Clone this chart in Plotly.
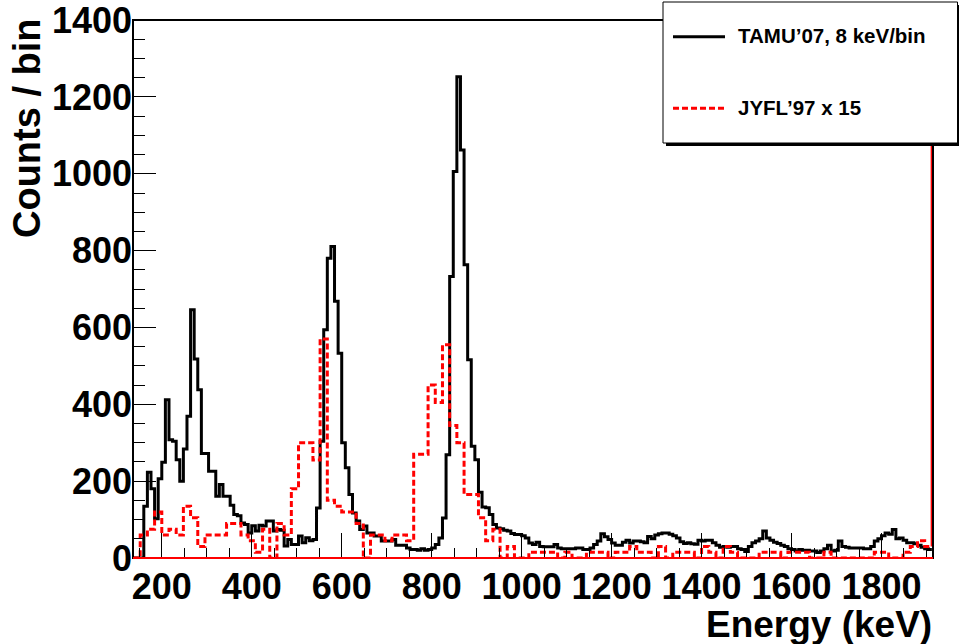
import plotly.graph_objects as go

# ---------------- data ----------------
E_MIN = 136          # keV, left edge of first bin
E_LAST = 1912        # keV, right edge of last bin
TAMU_BIN = 8         # keV / bin
JYFL_BIN = 16        # keV / bin

# TAMU'07 spectrum, 8 keV bins starting at 136 keV (222 bins)
tamu_counts = [
    0, 0, 0, 135, 223, 180, 102, 206, 249, 412,            # 0-9
    308, 304, 256, 200, 284, 369, 646, 518, 438, 272,      # 10-19
    272, 226, 226, 161, 191, 161, 161, 137, 113, 110,      # 20-29
    91, 87, 65, 84, 70, 85, 83, 96, 96, 70,               # 30-39
    74, 72, 31, 48, 35, 35, 57, 40, 53, 45,               # 40-49
    48, 130, 304, 594, 780, 811, 668, 533, 300, 235,      # 50-59
    165, 117, 96, 74, 83, 65, 65, 57, 57, 44,             # 60-69
    44, 44, 48, 33, 33, 33, 26, 22, 22, 20,               # 70-79
    24, 20, 22, 26, 35, 52, 104, 269, 733, 1006,          # 80-89
    1253, 1062, 763, 516, 291, 256, 171, 133, 131, 113,   # 90-99
    87, 78, 76, 72, 70, 64, 61, 61, 58, 52,               # 100-109
    39, 35, 41, 30, 29, 29, 29, 35, 26, 24,               # 110-119
    24, 24, 24, 26, 26, 22, 22, 26, 35, 44,               # 120-129
    63, 55, 48, 39, 33, 33, 41, 46, 39, 44,               # 130-139
    44, 42, 40, 56, 50, 60, 63, 65, 65, 62,               # 140-149
    58, 52, 42, 38, 40, 37, 36, 46, 44, 46,               # 150-159
    46, 40, 33, 28, 30, 28, 30, 30, 24, 22,               # 160-169
    17, 30, 40, 44, 50, 70, 52, 46, 41, 38,               # 170-179
    33, 30, 24, 22, 18, 22, 20, 20, 18, 18,               # 180-189
    14, 18, 24, 33, 18, 20, 44, 30, 28, 26,               # 190-199
    26, 26, 26, 24, 24, 30, 44, 50, 58, 65,               # 200-209
    62, 74, 50, 52, 46, 40, 40, 37, 33, 28,               # 210-219
    24, 22,                                               # 220-221
]

# JYFL'97 spectrum scaled x15, 16 keV bins starting at 136 keV (111 bins)
jyfl_counts_x15 = [
    0, 60, 75, 120, 60, 75, 60, 135, 105, 30,
    60, 60, 60, 90, 90, 60, 45, 15, 75, 0,
    90, 60, 180, 300, 300, 255, 570, 150, 135, 120,
    120, 90, 0, 60, 60, 45, 60, 60, 45, 270,
    270, 450, 405, 555, 345, 300, 165, 165, 105, 45,
    75, 0, 30, 0, 0, 15, 15, 15, 15, 0,
    15, 0, 0, 15, 15, 15, 0, 15, 15, 30,
    15, 15, 0, 30, 0, 15, 15, 15, 0, 30,
    15, 0, 30, 15, 0, 0, 0, 15, 15, 15,
    0, 15, 15, 15, 0, 0, 15, 0, 0, 0,
    0, 0, 0, 15, 15, 0, 0, 15, 30, 45, 30,
]
jyfl_overflow_x15 = 3000   # overflow bin beyond the last bin

legend_names = ["TAMU\u201907, 8 keV/bin", "JYFL\u201997 x 15"]
x_title = "Energy (keV)"
y_title = "Counts / bin"

# ---------------- build step histograms ----------------
def step_xy(counts, width, start):
    edges = [start + width * i for i in range(len(counts) + 1)]
    ys = list(counts) + [counts[-1]]
    return edges, ys

tx, ty = step_xy(tamu_counts, TAMU_BIN, E_MIN)
jx, jy = step_xy(jyfl_counts_x15, JYFL_BIN, E_MIN)
# edge step from last JYFL bin up to its overflow content
ox = [jx[-1], jx[-1]]
oy = [jyfl_counts_x15[-1], jyfl_overflow_x15]

FONT = "Liberation Sans"

fig = go.Figure()
fig.add_trace(go.Scatter(x=tx, y=ty, mode="lines", line_shape="hv",
                         line=dict(color="black", width=3),
                         name=legend_names[0], showlegend=False))
fig.add_trace(go.Scatter(x=jx, y=jy, mode="lines", line_shape="hv",
                         line=dict(color="#ff0000", width=3, dash="6px,3px"),
                         name=legend_names[1], showlegend=False))
fig.add_trace(go.Scatter(x=ox, y=oy, mode="lines",
                         line=dict(color="#ff0000", width=2.5),
                         showlegend=False, hoverinfo="skip"))

W, H = 959, 644
L, R, T, B = 133, 26, 20, 86
pw, ph = W - L - R, H - T - B

def px(xp):  # pixel x -> paper
    return (xp - L) / pw

def py(yp):  # pixel y -> paper
    return (H - B - yp) / ph

tickfont = dict(family=FONT, size=36, color="black", weight="bold")

fig.update_xaxes(range=[E_MIN, E_LAST + 2.5], tick0=0, dtick=200,
                 ticks="inside", ticklen=25, tickwidth=1, tickcolor="black",
                 minor=dict(dtick=50, ticks="inside", ticklen=10, tickwidth=1,
                            tickcolor="black"),
                 showgrid=False, zeroline=False, showline=False,
                 ticklabelstandoff=4, ticklabeloverflow="allow",
                 automargin=False, tickfont=tickfont)
fig.update_yaxes(range=[0, 1400.4], tick0=0, dtick=200,
                 ticks="inside", ticklen=23, tickwidth=1, tickcolor="black",
                 minor=dict(dtick=50, ticks="inside", ticklen=12, tickwidth=1,
                            tickcolor="black"),
                 showgrid=False, zeroline=False, showline=False,
                 ticklabeloverflow="allow", automargin=False,
                 tickfont=tickfont)

shapes = [
    # frame
    dict(type="rect", xref="paper", yref="paper", x0=0, x1=1, y0=0, y1=1,
         line=dict(color="black", width=2), layer="above"),
    # red baseline
    dict(type="line", xref="paper", yref="paper", x0=0, x1=1, y0=0, y1=0,
         line=dict(color="#ff0000", width=2), layer="above"),
    # legend shadow
    dict(type="rect", xref="paper", yref="paper", x0=px(666), x1=px(962),
         y0=py(146), y1=py(5), fillcolor="black", line=dict(width=0), layer="above"),
    # legend box
    dict(type="rect", xref="paper", yref="paper", x0=px(663), x1=px(957.5),
         y0=py(143), y1=py(2), fillcolor="white", line=dict(color="black", width=1),
         layer="above"),
    # legend samples
    dict(type="line", xref="paper", yref="paper", x0=px(673), x1=px(725),
         y0=py(36.7), y1=py(36.7), line=dict(color="black", width=3), layer="above"),
    dict(type="line", xref="paper", yref="paper", x0=px(673), x1=px(725),
         y0=py(108.3), y1=py(108.3), line=dict(color="#ff0000", width=3, dash="6px,3px"),
         layer="above"),
]

legfont = dict(family=FONT, size=20.5, color="black", weight="bold")
titlefont = dict(family=FONT, size=37, color="black", weight="bold")
annotations = [
    dict(text=legend_names[0], xref="paper", yref="paper", x=px(736), y=py(35.5),
         xanchor="left", yanchor="middle", showarrow=False, font=legfont),
    dict(text=legend_names[1], xref="paper", yref="paper", x=px(736), y=py(107),
         xanchor="left", yanchor="middle", showarrow=False, font=legfont),
    dict(text=x_title, xref="paper", yref="paper", x=px(934), y=py(624),
         xanchor="right", yanchor="middle", showarrow=False, font=titlefont),
    dict(text=y_title, xref="paper", yref="paper", x=px(27), y=py(16),
         xanchor="center", yanchor="top", textangle=-90, showarrow=False,
         font=dict(family=FONT, size=38, color="black", weight="bold")),
]

fig.update_layout(width=W, height=H,
                  margin=dict(l=L, r=R, t=T, b=B, pad=0, autoexpand=False),
                  paper_bgcolor="white", plot_bgcolor="white",
                  showlegend=False, shapes=shapes, annotations=annotations)

fig.write_html("out.html")
